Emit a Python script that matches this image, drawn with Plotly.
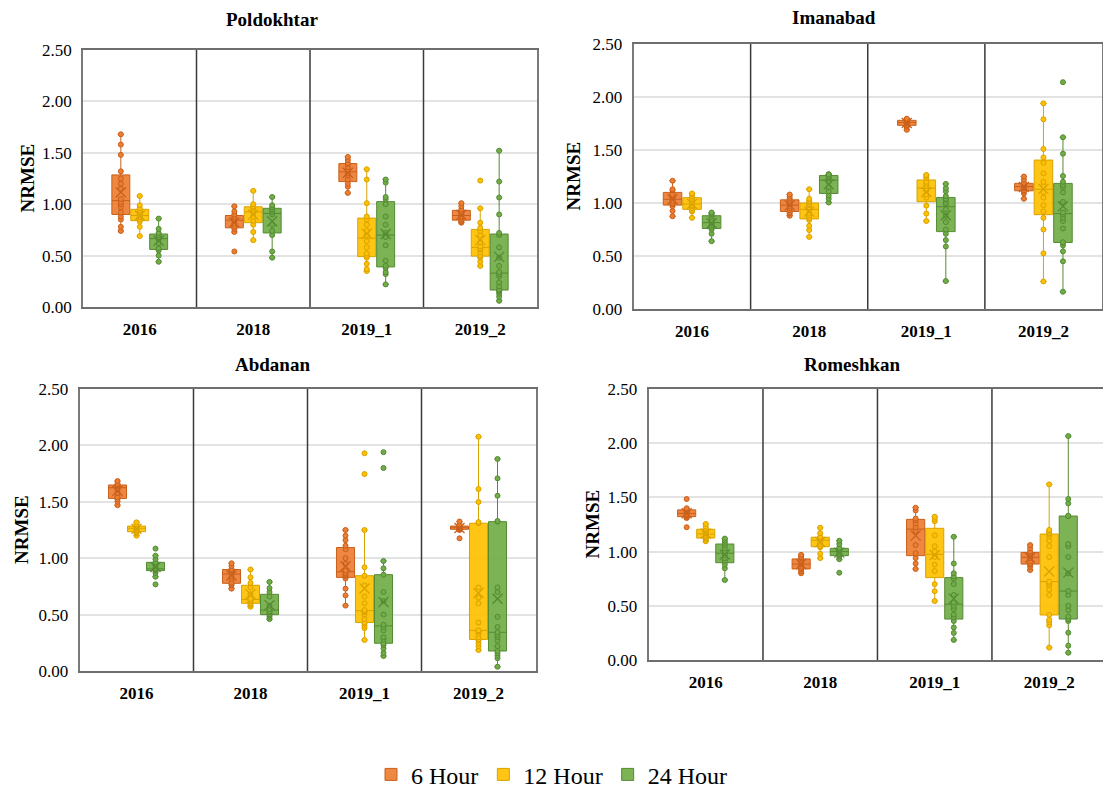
import numpy as np
import plotly.graph_objects as go

CATEGORIES = ["2016", "2018", "2019_1", "2019_2"]
SERIES = ["6 Hour", "12 Hour", "24 Hour"]
STATIONS = ["Poldokhtar", "Imanabad", "Abdanan", "Romeshkan"]
Y_TICKS = [0.0, 0.5, 1.0, 1.5, 2.0, 2.5]
Y_TITLE = "NRMSE"

# ---- NRMSE samples, one list per year category (2016, 2018, 2019_1, 2019_2) ----
POLDOKHTAR_6H = [
    [0.74, 0.78, 0.85, 0.88, 0.92, 0.97, 1.00, 1.02, 1.05, 1.15, 1.20, 1.25, 1.32, 1.48, 1.58, 1.68],
    [0.54, 0.73, 0.76, 0.78, 0.81, 0.84, 0.85, 0.86, 0.88, 0.90, 0.93, 0.98],
    [1.11, 1.17, 1.20, 1.24, 1.28, 1.30, 1.33, 1.36, 1.39, 1.40, 1.43, 1.46],
    [0.82, 0.83, 0.84, 0.85, 0.87, 0.88, 0.90, 0.91, 0.93, 0.95, 0.98, 1.01],
]
POLDOKHTAR_12H = [
    [0.69, 0.78, 0.83, 0.85, 0.87, 0.88, 0.90, 0.92, 0.94, 0.96, 0.99, 1.08],
    [0.65, 0.73, 0.80, 0.84, 0.88, 0.92, 0.93, 0.95, 0.97, 0.98, 1.00, 1.13],
    [0.35, 0.37, 0.42, 0.48, 0.50, 0.52, 0.58, 0.64, 0.70, 0.74, 0.80, 0.85, 0.88, 1.01, 1.24, 1.34],
    [0.40, 0.44, 0.48, 0.49, 0.50, 0.53, 0.56, 0.57, 0.59, 0.63, 0.70, 0.74, 0.77, 0.82, 0.96, 1.23],
]
POLDOKHTAR_24H = [
    [0.44, 0.50, 0.55, 0.57, 0.62, 0.66, 0.67, 0.68, 0.70, 0.72, 0.76, 0.86],
    [0.48, 0.54, 0.70, 0.74, 0.80, 0.90, 0.92, 0.94, 0.95, 0.97, 0.99, 1.07],
    [0.22, 0.32, 0.34, 0.38, 0.40, 0.45, 0.60, 0.68, 0.72, 0.80, 0.88, 1.00, 1.05, 1.07, 1.21, 1.24],
    [0.06, 0.10, 0.13, 0.15, 0.16, 0.17, 0.20, 0.24, 0.30, 0.32, 0.34, 0.40, 0.48, 0.58, 0.70, 0.72,
     0.90, 1.065, 1.22, 1.52],
]

IMANABAD_6H = [
    [0.875, 0.925, 0.97, 0.99, 1.00, 1.02, 1.05, 1.06, 1.08, 1.12, 1.13, 1.21],
    [0.88, 0.90, 0.91, 0.93, 0.95, 0.97, 0.99, 1.00, 1.02, 1.04, 1.06, 1.08],
    [1.69, 1.72, 1.73, 1.735, 1.75, 1.755, 1.765, 1.77, 1.775, 1.785, 1.79, 1.795],
    [1.04, 1.09, 1.11, 1.12, 1.14, 1.15, 1.16, 1.17, 1.18, 1.19, 1.22, 1.25],
]
IMANABAD_12H = [
    [0.86, 0.92, 0.93, 0.95, 0.97, 0.98, 1.00, 1.02, 1.04, 1.06, 1.08, 1.09],
    [0.68, 0.745, 0.785, 0.84, 0.86, 0.88, 0.90, 0.93, 0.95, 0.96, 0.98, 0.99, 1.01, 1.02, 1.04, 1.13],
    [0.83, 0.90, 0.975, 1.05, 1.08, 1.12, 1.16, 1.18, 1.20, 1.235, 1.25, 1.265],
    [0.26, 0.525, 0.75, 0.86, 0.92, 0.98, 1.05, 1.10, 1.16, 1.20, 1.28, 1.38, 1.43, 1.51, 1.79, 1.94],
]
IMANABAD_24H = [
    [0.64, 0.71, 0.75, 0.77, 0.79, 0.81, 0.82, 0.84, 0.87, 0.89, 0.90, 0.91],
    [1.005, 1.04, 1.07, 1.11, 1.15, 1.20, 1.23, 1.24, 1.25, 1.27, 1.27, 1.27],
    [0.264, 0.59, 0.65, 0.71, 0.75, 0.82, 0.88, 0.94, 0.99, 1.00, 1.03, 1.04, 1.065, 1.11, 1.14, 1.18],
    [0.163, 0.45, 0.544, 0.60, 0.625, 0.63, 0.76, 0.83, 0.86, 0.89, 0.91, 1.01, 1.10, 1.15, 1.17, 1.20,
     1.255, 1.465, 1.62, 2.14],
]

ABDANAN_6H = [
    [1.47, 1.50, 1.52, 1.54, 1.58, 1.61, 1.64, 1.645, 1.647, 1.651, 1.66, 1.684],
    [0.73, 0.76, 0.77, 0.785, 0.82, 0.84, 0.88, 0.89, 0.895, 0.905, 0.93, 0.955],
    [0.58, 0.67, 0.73, 0.82, 0.84, 0.85, 0.86, 0.87, 0.89, 0.95, 1.00, 1.08, 1.11, 1.16, 1.20, 1.25],
    [1.176, 1.25, 1.255, 1.257, 1.26, 1.268, 1.272, 1.28, 1.283, 1.287, 1.30, 1.325],
]
ABDANAN_12H = [
    [1.20, 1.22, 1.23, 1.24, 1.25, 1.26, 1.27, 1.28, 1.283, 1.287, 1.30, 1.318],
    [0.57, 0.585, 0.595, 0.605, 0.62, 0.63, 0.64, 0.68, 0.74, 0.78, 0.83, 0.90],
    [0.275, 0.38, 0.40, 0.42, 0.43, 0.46, 0.50, 0.52, 0.53, 0.54, 0.60, 0.66, 0.76, 0.845, 0.92, 1.25,
     1.746, 1.93],
    [0.186, 0.22, 0.245, 0.27, 0.28, 0.30, 0.33, 0.35, 0.355, 0.36, 0.43, 0.60, 0.65, 0.74, 1.31, 1.32,
     1.498, 1.613, 2.077],
]
ABDANAN_24H = [
    [0.768, 0.836, 0.87, 0.89, 0.895, 0.90, 0.90, 0.91, 0.93, 0.95, 0.963, 0.99, 1.022, 1.085],
    [0.46, 0.48, 0.495, 0.505, 0.52, 0.53, 0.55, 0.58, 0.66, 0.70, 0.735, 0.79],
    [0.133, 0.16, 0.20, 0.23, 0.246, 0.28, 0.30, 0.36, 0.39, 0.41, 0.50, 0.62, 0.70, 0.854, 0.91, 0.975,
     1.80, 1.94],
    [0.038, 0.113, 0.135, 0.157, 0.177, 0.22, 0.27, 0.30, 0.32, 0.343, 0.39, 0.48, 0.70, 0.74, 1.324,
     1.33, 1.554, 1.708, 1.88],
]

ROMESHKAN_6H = [
    [1.225, 1.31, 1.32, 1.325, 1.335, 1.345, 1.36, 1.37, 1.38, 1.39, 1.40, 1.485],
    [0.80, 0.82, 0.835, 0.845, 0.86, 0.88, 0.89, 0.90, 0.925, 0.94, 0.95, 0.97],
    [0.84, 0.89, 0.94, 0.985, 1.06, 1.19, 1.225, 1.26, 1.29, 1.305, 1.38, 1.405],
    [0.83, 0.86, 0.88, 0.89, 0.91, 0.94, 0.955, 0.97, 0.985, 1.00, 1.03, 1.06],
]
ROMESHKAN_12H = [
    [1.095, 1.11, 1.12, 1.13, 1.14, 1.155, 1.17, 1.18, 1.20, 1.212, 1.23, 1.255],
    [0.94, 0.98, 1.04, 1.05, 1.07, 1.09, 1.12, 1.125, 1.13, 1.135, 1.17, 1.22],
    [0.544, 0.635, 0.70, 0.82, 0.88, 0.95, 1.00, 1.05, 1.15, 1.28, 1.30, 1.322],
    [0.114, 0.32, 0.35, 0.37, 0.415, 0.60, 0.65, 0.69, 0.71, 0.723, 0.95, 1.05, 1.10, 1.14, 1.162, 1.17,
     1.19, 1.20, 1.62],
]
ROMESHKAN_24H = [
    [0.738, 0.846, 0.88, 0.915, 0.94, 0.97, 1.00, 1.03, 1.06, 1.08, 1.10, 1.12],
    [0.805, 0.93, 0.955, 0.97, 0.98, 0.99, 1.01, 1.02, 1.025, 1.035, 1.07, 1.10],
    [0.185, 0.25, 0.30, 0.36, 0.395, 0.42, 0.47, 0.50, 0.53, 0.60, 0.70, 0.75, 0.77, 0.80, 0.89, 1.137],
    [0.067, 0.132, 0.252, 0.36, 0.378, 0.40, 0.46, 0.50, 0.60, 0.636, 0.80, 0.95, 1.05, 1.07, 1.328,
     1.33, 1.445, 1.485, 2.066],
]

STATION_DATA = {
    "Poldokhtar": [POLDOKHTAR_6H, POLDOKHTAR_12H, POLDOKHTAR_24H],
    "Imanabad": [IMANABAD_6H, IMANABAD_12H, IMANABAD_24H],
    "Abdanan": [ABDANAN_6H, ABDANAN_12H, ABDANAN_24H],
    "Romeshkan": [ROMESHKAN_6H, ROMESHKAN_12H, ROMESHKAN_24H],
}

# ---- styling ----
FILL = ["rgba(237,125,49,0.92)", "rgba(255,192,0,0.92)", "rgba(112,173,71,0.92)"]
MARK = ["#ED7D31", "#FFC000", "#70AD47"]
EDGE = ["#C8601C", "#D9A200", "#558A33"]
SERIF = "Liberation Serif, Times New Roman, serif"
W, H = 1103, 789

# plot areas in pixels: (left, right, top, bottom, xmax)
AREAS = {
    "Poldokhtar": (83, 537, 50, 307, 3.5),
    "Imanabad": (633.5, 1102, 44, 309, 3.5),
    "Abdanan": (79.5, 535.5, 389, 671, 3.5),
    "Romeshkan": (648.5, 1103, 389, 660, 3.47),
}
TITLE_POS = {"Poldokhtar": (272, 20), "Imanabad": (834, 17), "Abdanan": (272, 365), "Romeshkan": (852, 364)}
YLABEL_X = {"Poldokhtar": 27, "Imanabad": 573, "Abdanan": 21, "Romeshkan": 592}

BOXGAP = 0.5

fig = go.Figure()
layout = dict(
    width=W, height=H, autosize=False, margin=dict(l=0, r=0, t=0, b=0, pad=0, autoexpand=False),
    paper_bgcolor="white", plot_bgcolor="white",
    boxmode="group", boxgap=BOXGAP, boxgroupgap=0.05,
    scattermode="group", scattergap=BOXGAP,
    font=dict(family=SERIF, color="black"),
    showlegend=True,
    legend=dict(orientation="h", x=0.5, xanchor="center", y=0.018, yanchor="middle",
                font=dict(family=SERIF, size=24, color="black"), itemwidth=30,
                tracegroupgap=0),
)
shapes = []
annotations = []

for k, station in enumerate(STATIONS, start=1):
    sfx = "" if k == 1 else str(k)
    xa, ya = "x" + sfx, "y" + sfx
    left, right, top, bottom, xmax = AREAS[station]
    layout["xaxis" + sfx] = dict(
        domain=[left / W, right / W], anchor=ya, type="category", automargin=False,
        categoryorder="array", categoryarray=CATEGORIES, range=[-0.5, xmax],
        showgrid=False, zeroline=False, showline=True, mirror=True,
        linecolor="#6e6e6e", linewidth=1.5, ticks="", ticklabelstandoff=6,
        tickfont=dict(family=SERIF, size=17, color="black", weight="bold"),
    )
    layout["yaxis" + sfx] = dict(
        domain=[1 - bottom / H, 1 - top / H], anchor=xa, range=[0, 2.5], automargin=False,
        tickvals=Y_TICKS, tickformat=".2f", showgrid=True, gridcolor="#e3e3e3",
        gridwidth=1.5, zeroline=False, showline=True, mirror=True,
        linecolor="#7a7a7a", linewidth=1.5, ticks="", ticklabelstandoff=6,
        tickfont=dict(family=SERIF, size=17, color="black"),
    )
    for i in range(len(CATEGORIES) - 1):
        shapes.append(dict(type="line", xref=xa, yref=ya + " domain", x0=i + 0.5, x1=i + 0.5,
                           y0=0, y1=1, line=dict(color="#3a3a3a", width=1.5), layer="above"))
    tx, ty = TITLE_POS[station]
    annotations.append(dict(text=f"<b>{station}</b>", xref="paper", yref="paper", x=tx / W, y=1 - ty / H,
                            showarrow=False, xanchor="center", yanchor="middle",
                            font=dict(family=SERIF, size=19, color="black")))
    annotations.append(dict(text=f"<b>{Y_TITLE}</b>", xref="paper", yref="paper",
                            x=YLABEL_X[station] / W, y=1 - ((top + bottom) / 2) / H, textangle=-90,
                            showarrow=False, xanchor="center", yanchor="middle",
                            font=dict(family=SERIF, size=19, color="black")))

    for s, series in enumerate(SERIES):
        groups = STATION_DATA[station][s]
        xs, ys = [], []
        for cat, vals in zip(CATEGORIES, groups):
            xs += [cat] * len(vals)
            ys += vals
        fig.add_trace(go.Box(
            x=xs, y=ys, name=series, legendgroup=series, offsetgroup=series,
            showlegend=(k == 1), xaxis=xa, yaxis=ya,
            boxpoints="all", jitter=0, pointpos=0, quartilemethod="exclusive",
            fillcolor=FILL[s], line=dict(color=EDGE[s], width=1), whiskerwidth=0.35,
            marker=dict(color=MARK[s], size=5, line=dict(color=EDGE[s], width=1)),
            hoverinfo="y",
        ))
        means = [float(np.mean(v)) for v in groups]
        fig.add_trace(go.Scatter(
            x=CATEGORIES, y=means, mode="markers", offsetgroup=series, legendgroup=series,
            showlegend=False, xaxis=xa, yaxis=ya,
            marker=dict(symbol="x-thin-open", size=10, color=EDGE[s], line=dict(color=EDGE[s], width=1.3)),
            hoverinfo="y",
        ))

layout["shapes"] = shapes
layout["annotations"] = annotations
fig.update_layout(**layout)
fig.write_html(
    "out.html",
    config={"displayModeBar": False},
    post_script="document.body.style.margin='0';document.body.style.overflow='hidden';",
)
